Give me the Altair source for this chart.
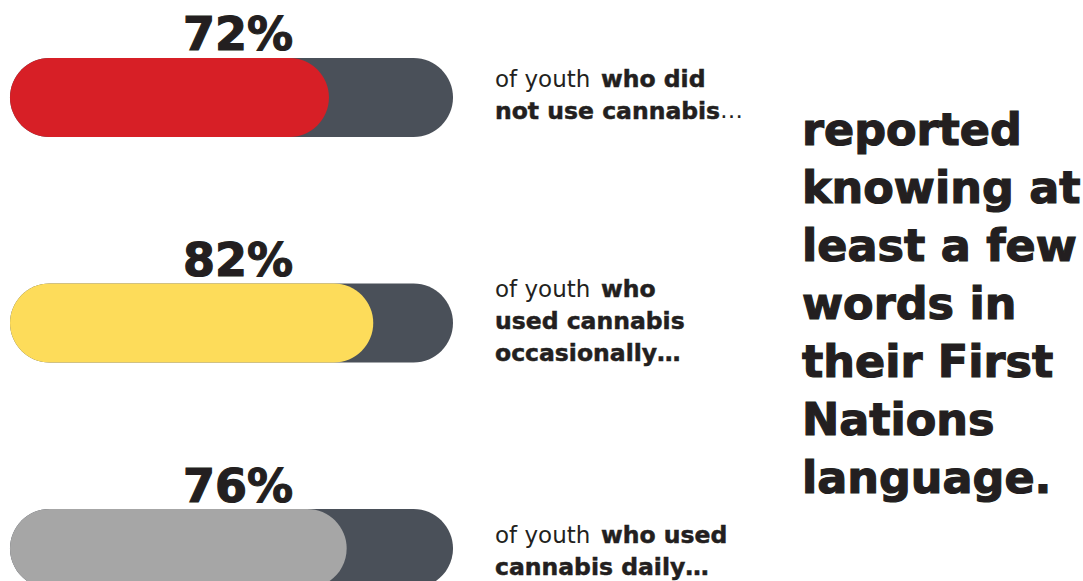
import altair as alt
import pandas as pd

groups = ["did not use", "occasional", "daily"]
values = [72, 82, 76]
labels = ["72%", "82%", "76%"]
colors = ["#d71f26", "#fddc5a", "#a6a6a6"]

line1_regular = ["of youth", "of youth", "of youth"]
line1_bold = ["who did", "who", "who used"]
more_lines = [["not use cannabis"], ["used cannabis", "occasionally…"], ["cannabis daily…"]]
big_text = "reported\nknowing at\nleast a few\nwords in\ntheir First\nNations\nlanguage."

df = pd.DataFrame({"group": groups, "value": values, "label": labels, "full": [100] * 3})

FONT = "DejaVu Sans"
INK = "#231f20"

xs = alt.Scale(domain=[0, 100], range=[10, 453])
ys = alt.Scale(domain=groups, range=[58, 588], paddingInner=0.6497, paddingOuter=0)

base = alt.Chart(df)

bg = base.mark_bar(cornerRadius=39.5, color="#4a5059").encode(
    x=alt.X("full:Q", scale=xs, axis=None).stack(None),
    x2=alt.datum(0),
    y=alt.Y("group:N", scale=ys, axis=None),
)
fg = base.mark_bar(cornerRadius=39.5).encode(
    x=alt.X("value:Q", scale=xs, axis=None).stack(None),
    x2=alt.datum(0),
    y=alt.Y("group:N", scale=ys, axis=None),
    color=alt.Color("group:N", scale=alt.Scale(domain=groups, range=colors), legend=None),
)
pct = base.mark_text(font=FONT, fontWeight="bold", fontSize=46, color=INK,
                     stroke=INK, strokeWidth=1.2,
                     align="center", baseline="alphabetic", dy=-47).encode(
    x=alt.value(238),
    y=alt.Y("group:N", scale=ys, axis=None),
    text="label:N",
)

layers = [bg, fg, pct]

def txt(s, x, y, bold=False, size=22):
    kw = dict(stroke=INK, strokeWidth=0.5) if bold else {}
    return alt.Chart(pd.DataFrame({"t": [s]})).mark_text(
        font=FONT, fontWeight="bold" if bold else "normal", fontSize=size, color=INK,
        align="left", baseline="alphabetic", **kw).encode(
        x=alt.value(x), y=alt.value(y), text="t:N")

# description blocks
first_baselines = [87, 297, 543]
for i in range(3):
    b = first_baselines[i]
    layers.append(txt(line1_regular[i], 495, b, size=23))
    layers.append(txt(line1_bold[i], 601, b, bold=True, size=23.5))
    for j, s in enumerate(more_lines[i]):
        layers.append(txt(s, 495, b + 32 * (j + 1), bold=True, size=23.5))
layers.append(txt("…", 720, 118, size=23))

big = alt.Chart(pd.DataFrame({"t": [big_text]})).mark_text(
    font=FONT, fontWeight="bold", fontSize=44.5, color=INK, align="left",
    stroke=INK, strokeWidth=1.2,
    baseline="alphabetic", lineBreak="\n", lineHeight=58).encode(
    x=alt.value(802), y=alt.value(145), text="t:N")
layers.append(big)

chart = alt.layer(*layers).properties(
    width=1083, height=581, padding=0, autosize=alt.AutoSizeParams(type="none"),
    background="white",
).configure_view(stroke=None)

chart.save("out.html", embed_options={"renderer": "svg", "actions": False})
